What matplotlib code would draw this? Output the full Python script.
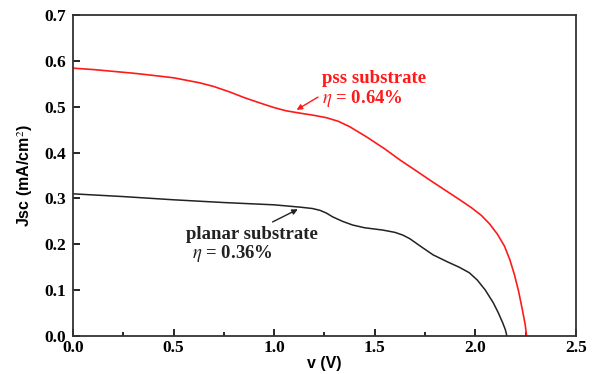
import matplotlib.pyplot as plt
from matplotlib.ticker import MultipleLocator

# pss substrate J-V curve
v_pss = [0.0, 0.1, 0.2, 0.3, 0.383, 0.5, 0.631, 0.7, 0.78, 0.85, 0.93, 1.0, 1.06, 1.128,
         1.2, 1.26, 1.32, 1.377, 1.46, 1.55, 1.625, 1.7, 1.774, 1.85, 1.923, 1.98, 2.03,
         2.07, 2.11, 2.145, 2.172, 2.195, 2.215, 2.235, 2.248, 2.255]
j_pss = [0.584, 0.581, 0.577, 0.573, 0.569, 0.563, 0.552, 0.544, 0.532, 0.520, 0.508, 0.498, 0.491, 0.486,
         0.481, 0.476, 0.468, 0.456, 0.434, 0.408, 0.384, 0.362, 0.340, 0.318, 0.297, 0.280, 0.263,
         0.245, 0.222, 0.196, 0.166, 0.133, 0.098, 0.055, 0.025, 0.0]

# planar substrate J-V curve
v_pl = [0.0, 0.25, 0.5, 0.75, 1.0, 1.128, 1.19, 1.228, 1.26, 1.29, 1.34, 1.39, 1.45, 1.54,
        1.6, 1.64, 1.675, 1.73, 1.79, 1.86, 1.92, 1.97, 2.01, 2.05, 2.09, 2.115, 2.137, 2.15, 2.157]
j_pl = [0.310, 0.304, 0.297, 0.291, 0.286, 0.281, 0.278, 0.274, 0.268, 0.260, 0.250, 0.242, 0.236, 0.231,
        0.226, 0.220, 0.212, 0.195, 0.177, 0.162, 0.150, 0.138, 0.122, 0.100, 0.072, 0.050, 0.028, 0.013, 0.0]

serif = 'Liberation Serif'
sans = 'Liberation Sans'
plt.rcParams['mathtext.fontset'] = 'stix'

fig = plt.figure(figsize=(5.98, 3.74), dpi=100)
ax = fig.add_axes([0.122, 0.1016, 0.841, 0.8584])

ax.plot(v_pss, j_pss, color='#ff1a1a', lw=1.2)
ax.plot(v_pl, j_pl, color='#222222', lw=1.1)

ax.set_xlim(0, 2.5)
ax.set_ylim(0, 0.7)
ax.xaxis.set_major_locator(MultipleLocator(0.5))
ax.xaxis.set_minor_locator(MultipleLocator(0.25))
ax.yaxis.set_major_locator(MultipleLocator(0.1))
ax.tick_params(which='both', direction='in', top=False, right=False, width=1.2)
ax.tick_params(which='major', length=5)
ax.tick_params(axis='x', which='major', pad=3)
ax.tick_params(axis='y', which='major', pad=5)
ax.tick_params(which='minor', length=3)
for sp in ax.spines.values():
    sp.set_linewidth(1.3)
    sp.set_color('#333333')

ax.xaxis.set_major_formatter(plt.FormatStrFormatter('%.1f'))
ax.yaxis.set_major_formatter(plt.FormatStrFormatter('%.1f'))
for lab in ax.get_xticklabels() + ax.get_yticklabels():
    lab.set_fontfamily(serif)
    lab.set_fontweight('bold')
    lab.set_fontsize(12.5)

ax.set_xlabel('v (V)', fontfamily=sans, fontweight='bold', fontsize=11.5, labelpad=0)
ax.set_ylabel('Jsc (mA/cm$^2$)', fontfamily=sans, fontweight='bold', fontsize=11.5, labelpad=7)

ax.annotate('', xy=(1.1, 0.49), xytext=(1.23, 0.524),
            arrowprops=dict(arrowstyle='-|>', color='#ff1a1a', lw=1.0, mutation_scale=8))
ax.text(1.24, 0.552, 'pss substrate', color='#ff1a1a', fontfamily=serif, fontweight='bold', fontsize=13.5)
ax.text(1.24, 0.508, r'$\eta$ = 0.64%', color='#ff1a1a', fontfamily=serif, fontweight='bold', fontsize=13.5)

ax.annotate('', xy=(1.13, 0.279), xytext=(0.98, 0.246),
            arrowprops=dict(arrowstyle='-|>', color='#222222', lw=1.0, mutation_scale=8))
ax.text(0.56, 0.212, 'planar substrate', color='#222222', fontfamily=serif, fontweight='bold', fontsize=13.5)
ax.text(0.59, 0.170, r'$\eta$ = 0.36%', color='#222222', fontfamily=serif, fontweight='bold', fontsize=13.5)

fig.savefig('out.png', dpi=100)
